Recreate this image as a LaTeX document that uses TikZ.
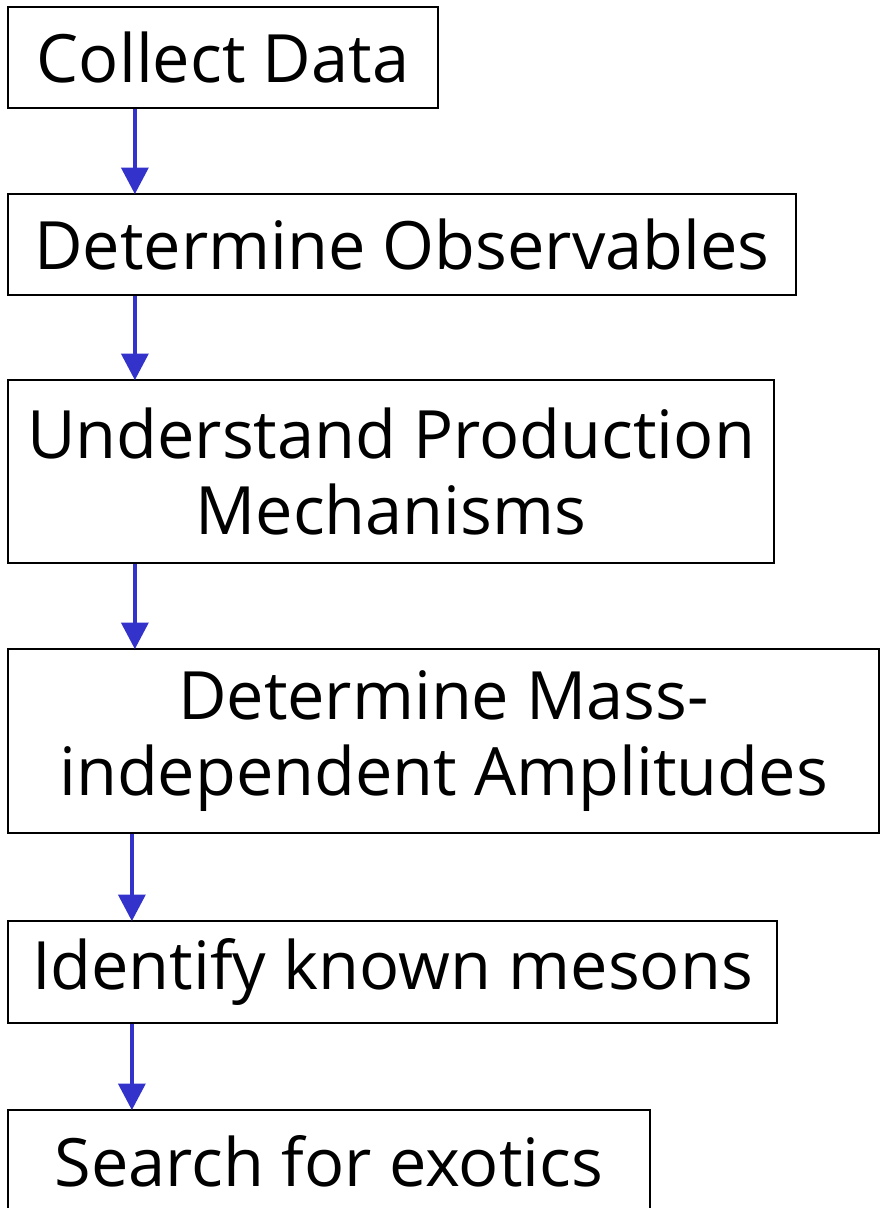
\documentclass[tikz,border=0pt]{standalone}
\usepackage{fontspec}
\setmainfont{Open Sans}
\usetikzlibrary{arrows.meta,calc}
\definecolor{arrblue}{HTML}{3333CC}
\tikzset{
  box/.style={draw=black, line width=1.7pt, fill=white, align=center, inner sep=0pt,
    font=\fontsize{50pt}{57pt}\selectfont},
  arr/.style={draw=arrblue, line width=3.5pt, -{Triangle[width=20pt,length=20pt]}, shorten >=-1pt}
}
\begin{document}
\begin{tikzpicture}[x=0.75pt,y=-0.75pt]
\useasboundingbox (0,0) rectangle (880,1208);
\node[box, minimum width=322.5pt, minimum height=75.75pt] (b1) at (223,57.5) {Collect Data};
\node[box, minimum width=591pt, minimum height=75.75pt] (b2) at (402,244.5) {Determine Observables};
\node[box, minimum width=574.5pt, minimum height=137.25pt] (b3) at (391,471.5) {Understand Production\\Mechanisms};
\node[box, minimum width=653.25pt, minimum height=138pt] (b4) at (443.5,741) {Determine Mass-\\independent Amplitudes};
\node[box, minimum width=576.75pt, minimum height=76.5pt] (b5) at (392.5,972) {Identify known mesons};
\node[box, minimum width=481.5pt, minimum height=76.5pt] (b6) at (329,1161) {Search for exotics};
\draw[arr] ($(b1.south west)+(128,0)$) -- ($(b2.north west)+(128,0)$);
\draw[arr] ($(b2.south west)+(128,0)$) -- ($(b3.north west)+(128,0)$);
\draw[arr] ($(b3.south west)+(128,0)$) -- ($(b4.north west)+(128,0)$);
\draw[arr] ($(b4.south west)+(125,0)$) -- ($(b5.north west)+(125,0)$);
\draw[arr] ($(b5.south west)+(125,0)$) -- ($(b6.north west)+(125,0)$);
\end{tikzpicture}
\end{document}
